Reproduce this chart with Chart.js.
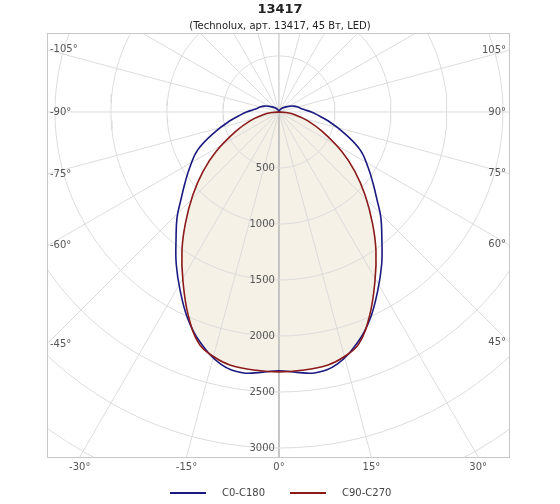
<!DOCTYPE html>
<html><head><meta charset="utf-8">
<script src="https://cdn.jsdelivr.net/npm/chart.js@4"></script>
<style>html,body{margin:0;padding:0;background:#fff}#c{display:block}</style>
</head><body>
<div style="width:560px;height:504px"><canvas id="c"></canvas></div>
<script>
const title = "13417";
const subtitle = "(Technolux, арт. 13417, 45 Вт, LED)";
const seriesNames = ["C0-C180", "C90-C270"];
// gamma angles (deg) and intensities (cd), symmetric about 0°
const anglesC0 = [0, 4, 8, 13, 19, 24, 29, 34, 39, 44, 48, 53, 58, 65, 73, 80, 86, 90, 95, 100, 105, 112, 120, 135, 150, 165, 180];
const valuesC0 = [2310, 2330, 2350, 2310, 2170, 2010, 1820, 1640, 1460, 1310, 1180, 1050, 940, 800, 590, 440, 340, 290, 230, 195, 175, 140, 100, 55, 30, 10, 0];
const anglesC90 = [0, 5, 11, 15, 19, 24, 29.5, 35, 40, 46, 52, 58, 66, 73, 80, 86, 90];
const valuesC90 = [2320, 2315, 2300, 2260, 2190, 1990, 1740, 1510, 1300, 1070, 860, 660, 420, 270, 150, 60, 0];
const ringValues = [500, 1000, 1500, 2000, 2500, 3000, 3500, 4000];
const ringLabels = ["500", "1000", "1500", "2000", "2500", "3000"];
const spokeAngles = [];
for (let a = -180; a < 180; a += 15) spokeAngles.push(a);
const angleLabelsSide = [-105, -90, -75, -60, -45, 45, 60, 75, 90, 105];
const angleLabelsBottom = [-30, -15, 0, 15, 30];

const rad = d => d * Math.PI / 180;
const pt = (r, a) => ({ x: r * Math.sin(rad(a)), y: -r * Math.cos(rad(a)) });
function curve(angles, vals) {
  const pts = [];
  for (let i = angles.length - 1; i > 0; i--) pts.push(pt(vals[i], -angles[i]));
  for (let i = 0; i < angles.length; i++) pts.push(pt(vals[i], angles[i]));
  return pts;
}
const XMIN = -2071, XMAX = 2054, YMIN = -3080, YMAX = 705;
const datasets = [];
datasets.push({ data: curve(anglesC90, valuesC90), order: 10, showLine: true, fill: 'shape', backgroundColor: '#f6f1e7', borderColor: 'rgba(0,0,0,0)', pointRadius: 0, tension: 0.4 });
ringValues.forEach(r => {
  const p = []; for (let a = 0; a <= 360; a += 3) p.push(pt(r, a));
  datasets.push({ data: p, order: 5, showLine: true, borderColor: '#dcdcdc', borderWidth: 1, pointRadius: 0, tension: 0 });
});
spokeAngles.forEach(a => {
  datasets.push({ data: [pt(0, a), pt(6000, a)], order: 5, showLine: true, borderColor: a === 0 || a === -180 ? '#bdbdbd' : '#dcdcdc', borderWidth: 1, pointRadius: 0 });
});
datasets.push({ data: curve(anglesC0, valuesC0), order: 2, showLine: true, borderColor: '#1a1a80', borderWidth: 1.6, pointRadius: 0, tension: 0.4 });
datasets.push({ data: curve(anglesC90, valuesC90), order: 1, showLine: true, borderColor: '#8b1a1a', borderWidth: 1.6, pointRadius: 0, tension: 0.4 });

const deco = {
  id: 'deco',
  afterDatasetsDraw(chart) {
    const { ctx, chartArea: ca, scales: { x, y } } = chart;
    ctx.save();
    ctx.strokeStyle = '#c8c8c8'; ctx.lineWidth = 1;
    ctx.strokeRect(ca.left + 0.5, ca.top + 0.5, ca.right - ca.left, ca.bottom - ca.top);
    ctx.fillStyle = '#555'; ctx.font = '10px "DejaVu Sans"';
    ctx.textAlign = 'right'; ctx.textBaseline = 'middle';
    ringLabels.forEach((t, i) => {
      const yy = y.getPixelForValue(-ringValues[i]);
      ctx.fillText(t, x.getPixelForValue(0) - 4, yy);
    });
    const cx = x.getPixelForValue(0), cy = y.getPixelForValue(0);
    angleLabelsSide.forEach(a => {
      const left = a < 0;
      const xe = left ? ca.left : ca.right;
      const t = (xe - cx) / Math.sin(rad(a));
      const yy = cy + t * Math.cos(rad(a));
      ctx.textAlign = left ? 'left' : 'right';
      ctx.fillText(a + '°', left ? ca.left + 3 : ca.right - 3, yy);
    });
    angleLabelsBottom.forEach(a => {
      const t = (ca.bottom - cy) / Math.cos(rad(a));
      const xx = cx + t * Math.sin(rad(a));
      ctx.textAlign = 'center'; ctx.textBaseline = 'top';
      ctx.fillText(a + '°', xx, ca.bottom + 5);
    });
    ctx.fillStyle = '#222'; ctx.textAlign = 'center'; ctx.textBaseline = 'middle';
    ctx.font = 'bold 13px "DejaVu Sans"'; ctx.fillText(title, 280, 10);
    ctx.font = '10px "DejaVu Sans"'; ctx.fillText(subtitle, 280, 26);
    const leg = [[170, '#1a1a80', seriesNames[0]], [290, '#8b1a1a', seriesNames[1]]];
    ctx.textAlign = 'left'; ctx.fillStyle = '#444';
    leg.forEach(([lx, c, n]) => {
      ctx.strokeStyle = c; ctx.lineWidth = 2;
      ctx.beginPath(); ctx.moveTo(lx, 493); ctx.lineTo(lx + 36, 493); ctx.stroke();
      ctx.fillText(n, lx + 52, 493);
    });
    ctx.restore();
  }
};

new Chart(document.getElementById('c'), {
  type: 'scatter',
  data: { datasets },
  options: {
    responsive: true, maintainAspectRatio: false, animation: false,
    layout: { padding: { left: 47, right: 51, top: 33, bottom: 47 } },
    plugins: { legend: { display: false }, tooltip: { enabled: false } },
    scales: {
      x: { type: 'linear', min: XMIN, max: XMAX, display: false },
      y: { type: 'linear', min: YMIN, max: YMAX, display: false }
    }
  },
  plugins: [deco]
});
</script>
</body></html>
